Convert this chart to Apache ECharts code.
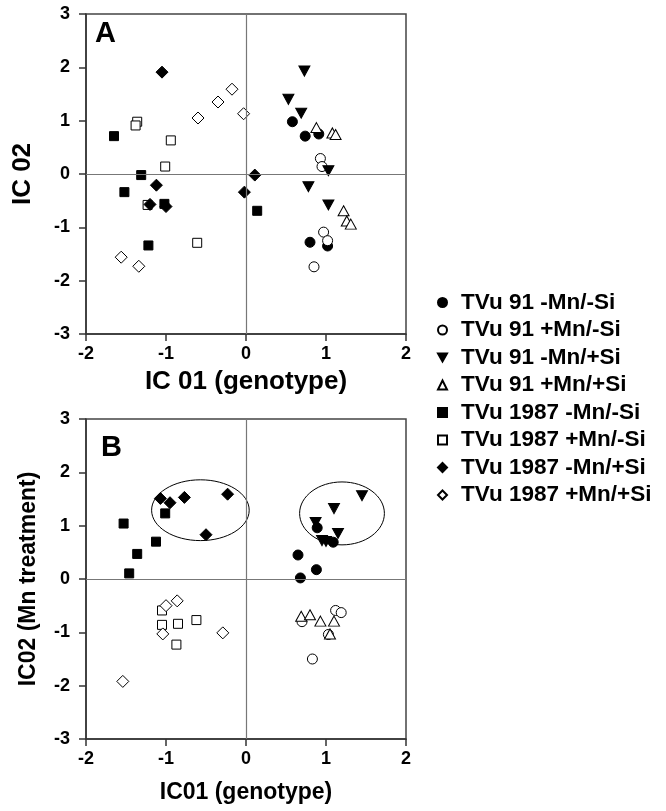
<!DOCTYPE html>
<html><head><meta charset="utf-8">
<script src="https://cdn.jsdelivr.net/npm/echarts@6/dist/echarts.min.js"></script>
<style>html,body{margin:0;padding:0;background:#fff}#c{width:666px;height:811px}</style>
</head><body><div id="c"></div>
<script>
const seriesNames = ['TVu 91 -Mn/-Si','TVu 91 +Mn/-Si','TVu 91 -Mn/+Si','TVu 91 +Mn/+Si','TVu 1987 -Mn/-Si','TVu 1987 +Mn/-Si','TVu 1987 -Mn/+Si','TVu 1987 +Mn/+Si'];
const xTicks = [-2,-1,0,1,2];
const yTicks = [-3,-2,-1,0,1,2,3];

// Panel A
const a91mMmS = [[0.58,0.98],[0.74,0.71],[0.91,0.75],[0.80,-1.28],[1.02,-1.35]];
const a91pMmS = [[0.93,0.29],[0.95,0.14],[0.97,-1.09],[1.02,-1.25],[0.85,-1.74]];
const a91mMpS = [[0.73,1.93],[0.53,1.40],[0.69,1.14],[1.03,0.06],[0.78,-0.24],[1.03,-0.58]];
const a91pMpS = [[0.88,0.87],[1.08,0.77],[1.12,0.74],[1.22,-0.69],[1.26,-0.88],[1.31,-0.94]];
const a1987mMmS = [[-1.65,0.71],[-1.31,-0.02],[-1.52,-0.34],[-1.02,-0.56],[-1.22,-1.34],[0.14,-0.69]];
const a1987pMmS = [[-1.36,0.98],[-1.38,0.91],[-0.94,0.63],[-1.01,0.14],[-1.23,-0.58],[-0.61,-1.29]];
const a1987mMpS = [[-1.05,1.91],[-1.12,-0.21],[-1.2,-0.57],[-1.0,-0.61],[-0.02,-0.34],[0.11,-0.02]];
const a1987pMpS = [[-0.6,1.05],[-0.35,1.35],[-0.175,1.59],[-0.03,1.13],[-1.56,-1.56],[-1.34,-1.73]];

// Panel B
const b91mMmS = [[0.89,0.96],[1.09,0.69],[0.65,0.45],[0.88,0.175],[0.68,0.02]];
const b91pMmS = [[0.70,-0.80],[1.12,-0.59],[1.19,-0.63],[1.03,-1.04],[0.83,-1.5]];
const b91mMpS = [[1.45,1.56],[1.10,1.32],[0.87,1.06],[1.15,0.855],[1.0,0.705],[0.95,0.72]];
const b91pMpS = [[0.69,-0.70],[0.80,-0.67],[0.93,-0.79],[1.10,-0.79],[1.05,-1.03]];
const b1987mMmS = [[-1.53,1.04],[-1.125,0.70],[-1.36,0.47],[-1.46,0.105],[-1.01,1.23]];
const b1987pMmS = [[-1.05,-0.59],[-1.05,-0.86],[-0.85,-0.84],[-0.62,-0.77],[-0.87,-1.23]];
const b1987mMpS = [[-1.07,1.51],[-0.95,1.43],[-0.77,1.53],[-0.23,1.59],[-0.5,0.83]];
const b1987pMpS = [[-1.0,-0.5],[-0.86,-0.41],[-1.04,-1.03],[-0.29,-1.01],[-1.54,-1.92]];

// Ellipses in panel B: [centerX, centerY, radiusX, radiusY] in data units
const ellipseLeft = [-0.57,1.29,0.61,0.57];
const ellipseRight = [1.2,1.23,0.53,0.59];

const dataA = [a91mMmS,a91pMmS,a91mMpS,a91pMpS,a1987mMmS,a1987pMmS,a1987mMpS,a1987pMpS];
const dataB = [b91mMmS,b91pMmS,b91mMpS,b91pMpS,b1987mMmS,b1987pMmS,b1987mMpS,b1987pMpS];

const FONT = 'Liberation Sans, Arial, sans-serif';
const downTri = 'path://M0,0L10,0L5,9Z';
const styles = [
  {symbol:'circle', size:10, fill:'#000'},
  {symbol:'circle', size:10, fill:'#fff'},
  {symbol:downTri, size:[11,10], fill:'#000'},
  {symbol:'triangle', size:[11,10], fill:'#fff'},
  {symbol:'rect', size:9, fill:'#000'},
  {symbol:'rect', size:9, fill:'#fff'},
  {symbol:'diamond', size:12, fill:'#000'},
  {symbol:'diamond', size:12, fill:'#fff'}
];

function mkAxesX(idx, name, gap, fs){
  return {gridIndex:idx, type:'value', min:-2, max:2, interval:1,
    name:name, nameLocation:'middle', nameGap:gap,
    nameTextStyle:{fontFamily:FONT, fontWeight:'bold', fontSize:fs, color:'#000'},
    axisLine:{show:true, onZero:false, lineStyle:{color:'#333', width:1.5}},
    axisTick:{show:true, inside:false, length:7, lineStyle:{color:'#333', width:1.5}},
    axisLabel:{fontFamily:FONT, fontWeight:'bold', fontSize:18, color:'#000', margin:11,
      formatter:v=>xTicks.includes(v)?String(v):''},
    splitLine:{show:false}};
}
function mkAxesY(idx, name, gap, fs){
  return {gridIndex:idx, type:'value', min:-3, max:3, interval:1,
    name:name, nameLocation:'middle', nameGap:gap,
    nameTextStyle:{fontFamily:FONT, fontWeight:'bold', fontSize:fs, color:'#000'},
    axisLine:{show:true, onZero:false, lineStyle:{color:'#333', width:1.5}},
    axisTick:{show:true, inside:false, length:7, lineStyle:{color:'#333', width:1.5}},
    axisLabel:{fontFamily:FONT, fontWeight:'bold', fontSize:18, color:'#000', margin:16,
      formatter:v=>yTicks.includes(v)?String(v):''},
    splitLine:{show:false}};
}

const series = [];
[dataA, dataB].forEach((set, gi) => {
  set.forEach((d, i) => {
    const st = styles[i];
    series.push({
      name: seriesNames[i], type:'scatter', xAxisIndex:gi, yAxisIndex:gi,
      data:d, symbol:st.symbol, symbolSize:st.size,
      itemStyle:{color:st.fill, borderColor:'#000', borderWidth:1, opacity:1},
      emphasis:{disabled:true}, z:3
    });
  });
  series.push({
    type:'scatter', xAxisIndex:gi, yAxisIndex:gi, data:[], silent:true, z:1,
    markLine:{silent:true, symbol:['none','none'], label:{show:false},
      lineStyle:{color:'#777', width:1.2, type:'solid'},
      data:[{xAxis:0},{yAxis:0}]}
  });
});

const chart = echarts.init(document.getElementById('c'), null, {renderer:'canvas', width:666, height:811});
chart.setOption({
  animation:false,
  backgroundColor:'#fff',
  grid:[
    {left:86, top:14, width:320, height:320, show:true, borderColor:'#444', borderWidth:1.5, backgroundColor:'transparent'},
    {left:86, top:419, width:320, height:320, show:true, borderColor:'#444', borderWidth:1.5, backgroundColor:'transparent'}
  ],
  xAxis:[mkAxesX(0,'IC 01 (genotype)',35,26), mkAxesX(1,'IC01 (genotype)',42,23)],
  yAxis:[mkAxesY(0,'IC 02',50,26), mkAxesY(1,'IC02 (Mn treatment)',46,23)],
  legend:{
    orient:'vertical', left:432, top:286, itemWidth:9, itemHeight:9, itemGap:4.5,
    data:seriesNames,
    textStyle:{fontFamily:FONT, fontWeight:'bold', fontSize:22.5, color:'#000', lineHeight:22, padding:[0,0,0,9]},
    selectedMode:false
  },
  series:series
});

const pL = chart.convertToPixel({xAxisIndex:1, yAxisIndex:1}, [ellipseLeft[0], ellipseLeft[1]]);
const pLr = chart.convertToPixel({xAxisIndex:1, yAxisIndex:1}, [ellipseLeft[0]+ellipseLeft[2], ellipseLeft[1]+ellipseLeft[3]]);
const pR = chart.convertToPixel({xAxisIndex:1, yAxisIndex:1}, [ellipseRight[0], ellipseRight[1]]);
const pRr = chart.convertToPixel({xAxisIndex:1, yAxisIndex:1}, [ellipseRight[0]+ellipseRight[2], ellipseRight[1]+ellipseRight[3]]);

chart.setOption({
  graphic:[
    {type:'text', left:95, top:19, style:{text:'A', font:'bold 29px '+FONT, fill:'#000'}},
    {type:'text', left:101, top:433, style:{text:'B', font:'bold 29px '+FONT, fill:'#000'}},
    {type:'ellipse', shape:{cx:pL[0], cy:pL[1], rx:Math.abs(pLr[0]-pL[0]), ry:Math.abs(pLr[1]-pL[1])},
      style:{fill:'none', stroke:'#000', lineWidth:1}, z:2},
    {type:'ellipse', shape:{cx:pR[0], cy:pR[1], rx:Math.abs(pRr[0]-pR[0]), ry:Math.abs(pRr[1]-pR[1])},
      style:{fill:'none', stroke:'#000', lineWidth:1}, z:2}
  ]
});
</script></body></html>
